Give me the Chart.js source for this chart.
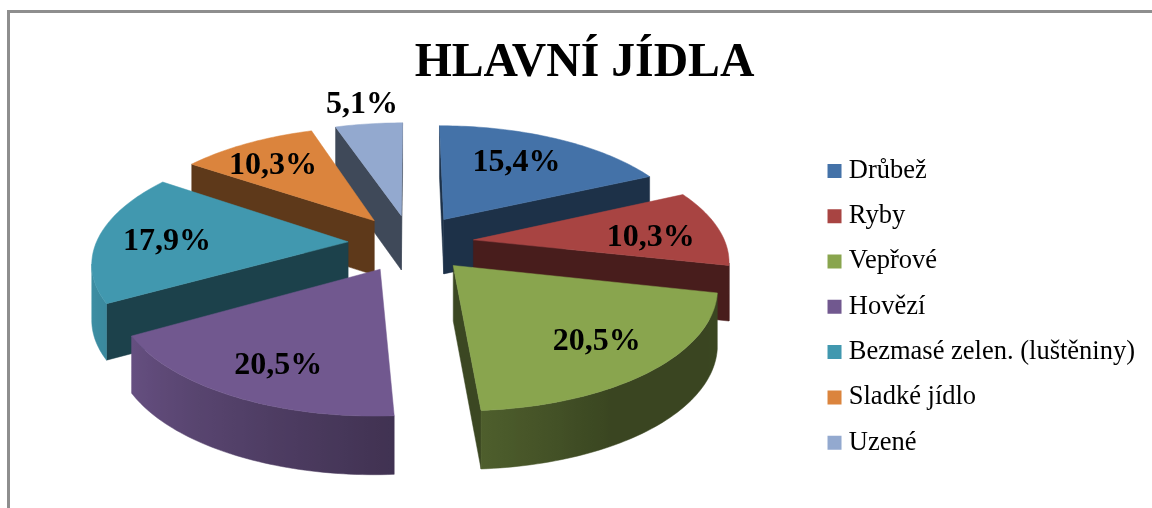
<!DOCTYPE html>
<html><head><meta charset="utf-8">
<style>html,body{margin:0;padding:0;background:#fff;overflow:hidden}
#frame{position:absolute;left:7px;top:10px;width:1145px;height:498px;border-top:3px solid #8e8e8e;border-left:3px solid #8e8e8e;box-sizing:border-box}
canvas{position:absolute;left:0;top:0}</style>
<script src="https://cdn.jsdelivr.net/npm/chart.js@4"></script></head><body>
<div id="frame"></div><canvas id="c" width="1152" height="508"></canvas>
<script>
const categories=['Drůbež','Ryby','Vepřové','Hovězí','Bezmasé zelen. (luštěniny)','Sladké jídlo','Uzené'];
const values=[15.4,10.3,20.5,20.5,17.9,10.3,5.1];
const colors=['#4472a8','#a84442','#89a54e','#71588f','#4198af','#db843d','#93a9cf'];
const edgeNudge=[0,9.5,10,10,0,0,0,0];
const labelRadius=[.66,.71,.75,.77,.72,.72,1.25];
const labelFrac=[.47,.62,.5,.46,.46,.42,.5];
const VIEW={cx:411,cy:243,rx:252,a:115,p:.155,explode:.25,thick:55};
const hex=c=>[1,3,5].map(i=>parseInt(c.substr(i,2),16));
const shade=(c,f)=>{const h=hex(c);return `rgb(${h.map(x=>Math.round(x*f)).join(',')})`};
const deg=Math.PI/180;
function wallShade(t){
  const pts=[[0,.45],[120,.42],[150,.42],[178,.58],[240,.9],[270,.97],[360,.97]];
  for(let i=1;i<pts.length;i++) if(t<=pts[i][0]){const [a,b]=pts[i-1],[c,d]=pts[i];return b+(d-b)*(t-a)/(c-a)}
  return .9;
}
const pie3d={id:'pie3d',beforeDatasetsDraw(chart){
  const {ctx}=chart,V=VIEW,arcs=chart.getDatasetMeta(0).data;
  const slices=arcs.map((el,i)=>{
    const a0=(el.startAngle+Math.PI/2)/deg,a1=(el.endAngle+Math.PI/2)/deg;
    const s0=a0+edgeNudge[i],s1=a1+edgeNudge[i+1];
    const mid=(s0+s1)/2*deg;
    const ox=V.explode*Math.sin(mid),oy=-V.explode*Math.cos(mid);
    const P=(r,t)=>{const u=ox+r*Math.sin(t*deg),v=oy-r*Math.cos(t*deg),s=1/(1-V.p*v);
      return {x:V.cx+V.rx*u*s,y:V.cy+V.a*v*s,b:V.thick+3*v,t}};
    return {i,P,s0,s1,mid};
  }).sort((a,b)=>Math.cos(b.mid)-Math.cos(a.mid));
  const area=(a,b)=>{const q=[[a.x,a.y],[b.x,b.y],[b.x,b.y+b.b],[a.x,a.y+a.b]];let s=0;q.forEach((p,k)=>{const n=q[(k+1)%4];s+=p[0]*n[1]-n[0]*p[1]});return s};
  const fillPath=(pts,f)=>{ctx.fillStyle=f;ctx.strokeStyle=f;ctx.lineWidth=.5;ctx.beginPath();pts.forEach((p,k)=>k?ctx.lineTo(p[0],p[1]):ctx.moveTo(p[0],p[1]));ctx.closePath();ctx.fill();ctx.stroke()};
  const quad=(a,b,f)=>{if(area(a,b)<0)fillPath([[a.x,a.y],[b.x,b.y],[b.x,b.y+b.b],[a.x,a.y+a.b]],f)};
  slices.forEach(S=>{
    const c=colors[S.i],apex=S.P(0,S.s0),n=Math.ceil((S.s1-S.s0)/1.2),rim=[];
    for(let k=0;k<=n;k++)rim.push(S.P(1,S.s0+(S.s1-S.s0)*k/n));
    const radial=shade(c,.43);
    quad(apex,rim[0],radial);quad(rim[n],apex,radial);
    const vis=[];
    for(let k=0;k<n;k++)if(area(rim[k],rim[k+1])<0){if(!vis.length)vis.push(rim[k]);vis.push(rim[k+1])}
    if(vis.length>1){
      const xs=vis.map(p=>p.x),lo=Math.min(...xs),hi=Math.max(...xs),g=ctx.createLinearGradient(lo,0,hi,0);
      vis.forEach(p=>g.addColorStop((p.x-lo)/(hi-lo||1),shade(c,wallShade(p.t))));
      fillPath(vis.map(p=>[p.x,p.y]).concat(vis.slice().reverse().map(p=>[p.x,p.y+p.b])),g);
    }
    fillPath([[apex.x,apex.y]].concat(rim.map(p=>[p.x,p.y])),c);
  });
  ctx.fillStyle='#000';ctx.font='bold 32px "Liberation Serif"';ctx.textAlign='center';ctx.textBaseline='middle';
  slices.forEach(S=>{
    const p=S.P(labelRadius[S.i],S.s0+(S.s1-S.s0)*labelFrac[S.i]);
    ctx.fillText(values[S.i].toFixed(1).replace('.',',')+'%',p.x,p.y);
  });
  return false;
}};
new Chart(document.getElementById('c'),{type:'pie',plugins:[pie3d],
 data:{labels:categories,datasets:[{data:values,backgroundColor:colors}]},
 options:{responsive:false,animation:false,devicePixelRatio:1,
  layout:{padding:{left:24,right:7,top:0,bottom:0}},
  plugins:{tooltip:{enabled:false},
   title:{display:true,text:'HLAVNÍ JÍDLA',color:'#000',font:{family:'"Liberation Serif"',size:47.7,weight:'bold'},padding:{top:35,bottom:13.4}},
   legend:{position:'right',fullSize:false,labels:{color:'#111',font:{family:'"Liberation Serif"',size:26.5},boxWidth:2,boxHeight:2,padding:18.8,
     generateLabels:()=>categories.map((t,i)=>({text:t,fillStyle:colors[i],strokeStyle:colors[i],lineWidth:12,index:i}))}}
  }}});
</script></body></html>
